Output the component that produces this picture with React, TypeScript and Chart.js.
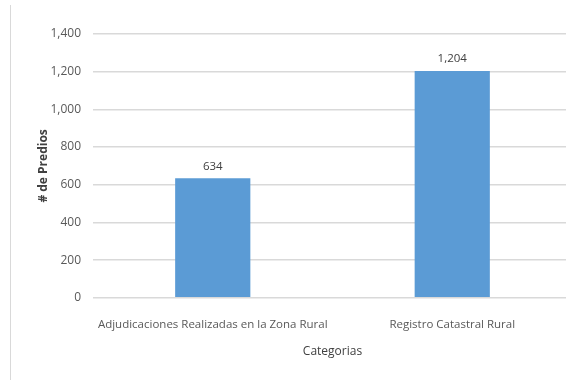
import React, { useEffect, useRef } from "react";
import { Chart, registerables } from "chart.js";

Chart.register(...registerables);

const categories = ["Adjudicaciones Realizadas en la Zona Rural", "Registro Catastral Rural"];
const values = [634, 1204];
const yMax = 1400;
const yStep = 200;
const yTitle = "# de Predios";
const xTitle = "Categorias";

const FONT = "'Open Sans', Arial, sans-serif";

const labelPlugin = {
  id: "barLabels",
  afterDatasetsDraw(chart: any) {
    const ctx = chart.ctx;
    const meta = chart.getDatasetMeta(0);
    ctx.save();
    ctx.fillStyle = "#404040";
    ctx.font = `11.5px ${FONT}`;
    ctx.textAlign = "center";
    ctx.textBaseline = "bottom";
    meta.data.forEach((el: any, i: number) => {
      ctx.fillText(values[i].toLocaleString("en-US"), el.x, el.y - 6);
    });
    ctx.restore();
  },
};

export default function App() {
  const ref = useRef<HTMLCanvasElement | null>(null);
  useEffect(() => {
    if (!ref.current) return;
    const chart = new Chart(ref.current, {
      type: "bar",
      data: {
        labels: categories,
        datasets: [
          {
            data: values,
            backgroundColor: "#5b9bd5",
            barPercentage: 0.314,
            categoryPercentage: 1,
          },
        ],
      },
      options: {
        animation: false,
        responsive: false,
        maintainAspectRatio: false,
        layout: { padding: { top: 34, right: 0, left: 32, bottom: 17 } },
        plugins: { legend: { display: false }, tooltip: { enabled: false } },
        scales: {
          x: {
            grid: { display: false, drawTicks: false },
            border: { display: false },
            ticks: { color: "#595959", font: { family: FONT, size: 11.5 }, padding: 20, maxRotation: 0, autoSkip: false },
            title: { display: true, text: xTitle, color: "#404040", font: { family: FONT, size: 12 }, padding: { top: -7 } },
          },
          y: {
            min: 0,
            max: yMax,
            afterFit: (s: any) => {
              s.width = 61;
            },
            ticks: {
              stepSize: yStep,
              color: "#595959",
              font: { family: FONT, size: 12 },
              padding: 12,
              callback: (v: any) => Number(v).toLocaleString("en-US"),
            },
            grid: { color: "#d9d9d9", lineWidth: 1.5, drawTicks: false },
            border: { display: false },
            title: { display: true, text: yTitle, color: "#404040", font: { family: FONT, size: 12, weight: "bold" }, padding: { bottom: 2 } },
          },
        },
      },
      plugins: [labelPlugin],
    });
    return () => chart.destroy();
  }, []);
  return (
    <div style={{ position: "fixed", left: 0, top: 0, width: 566, height: 380, background: "#fff", overflow: "hidden" }}>
      <div style={{ position: "absolute", left: 10, top: 5, width: 1, height: 375, background: "#d9d9d9" }} />
      <canvas ref={ref} width={572} height={380} style={{ position: "absolute", left: 0, top: 0 }} />
    </div>
  );
}
